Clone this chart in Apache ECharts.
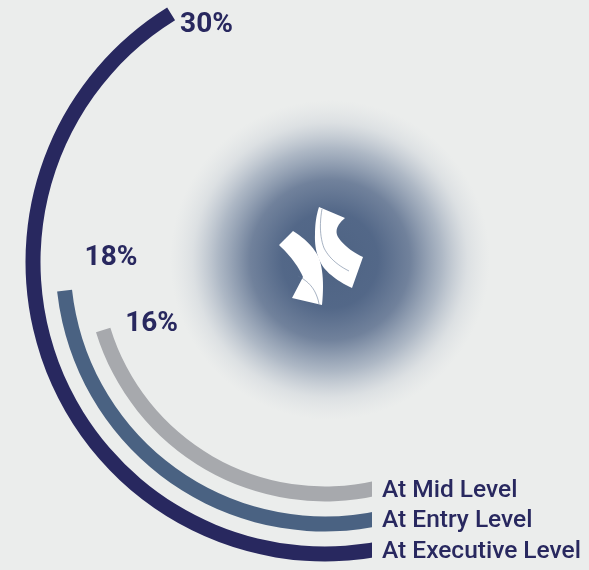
<!DOCTYPE html>
<html>
<head>
<meta charset="utf-8">
<script src="https://cdn.jsdelivr.net/npm/echarts@6/dist/echarts.min.js"></script>
<style>
  html, body { margin: 0; padding: 0; background: #ebedec; }
  #chart { width: 589px; height: 570px; }
</style>
</head>
<body>
<div id="chart"></div>
<script>
// Share of women by career level (inner ring to outer ring)
const levels = ['At Mid Level', 'At Entry Level', 'At Executive Level'];
const shares = [16, 18, 30];

const BG = '#ebedec';
const NAVY = '#28285f';
const ringColors = ['#a7a9ad', '#4a6282', '#28285f'];
// where each percentage sits relative to the end of its ring
const labelOffsets = [[22, -6], [20, -33], [9, 11]];
// vertical centre of each level name, next to the ring tails
const nameY = [491, 521, 552];

// Turn a tiny M/L/Q path string into a list of points (quadratics sampled)
function outline(d) {
  const t = d.match(/[MLQZ]|-?\d+(\.\d+)?/g);
  const pts = [];
  let i = 0, cur = null;
  while (i < t.length) {
    const c = t[i++];
    if (c === 'M' || c === 'L') {
      cur = [+t[i++], +t[i++]];
      pts.push(cur);
    } else if (c === 'Q') {
      const c1 = [+t[i++], +t[i++]], e = [+t[i++], +t[i++]];
      for (let s = 1; s <= 12; s++) {
        const u = s / 12, a = (1 - u) * (1 - u), b = 2 * u * (1 - u), q = u * u;
        pts.push([a * cur[0] + b * c1[0] + q * e[0], a * cur[1] + b * c1[1] + q * e[1]]);
      }
      cur = e;
    }
  }
  return pts;
}

const emblem = [
  { type: 'polygon', d: 'M319,207 L345,218 Q333,228 338,237 Q346,249 363,257 L352,288 Q333,279 324,268 Q314,254 315,234 Q315,219 319,207' },
  { type: 'polygon', d: 'M279,245 L293,231 Q312,243 319,258 Q325,275 322,305 L292,298 L303,277 Q296,261 279,245' },
  { type: 'polyline', d: 'M322,209 Q318,232 324,248 Q331,262 349,271' },
  { type: 'polyline', d: 'M298,276 Q310,282 315,292 Q318,298 319,304' }
].map(p => p.type === 'polygon'
  ? { type: 'polygon', z: 1, silent: true, shape: { points: outline(p.d) }, style: { fill: '#ffffff' } }
  : { type: 'polyline', z: 1, silent: true, shape: { points: outline(p.d) },
      style: { fill: null, stroke: 'rgba(96,116,146,0.55)', lineWidth: 1 } });

const chart = echarts.init(document.getElementById('chart'));

chart.setOption({
  backgroundColor: BG,
  animation: false,
  polar: { center: [325, 262], radius: [217, 307] },
  angleAxis: {
    type: 'value', min: 0, max: 67, startAngle: 283, clockwise: true,
    show: false
  },
  radiusAxis: { type: 'category', data: levels, show: false },
  graphic: [
    // soft glow behind the emblem
    {
      type: 'circle', z: 0, silent: true,
      shape: { cx: 330, cy: 260, r: 160 },
      style: {
        fill: new echarts.graphic.RadialGradient(0.5, 0.5, 0.5, [
          { offset: 0, color: 'rgba(78,99,131,1)' },
          { offset: 0.3, color: 'rgba(80,101,134,0.98)' },
          { offset: 0.5, color: 'rgba(86,106,138,0.82)' },
          { offset: 0.7, color: 'rgba(100,120,150,0.45)' },
          { offset: 0.86, color: 'rgba(130,146,170,0.14)' },
          { offset: 1, color: 'rgba(170,180,195,0)' }
        ])
      }
    }
  ].concat(emblem, [
    // square off the ring tails on the right
    {
      type: 'rect', z: 40, silent: true,
      shape: { x: 372, y: 462, width: 217, height: 108 },
      style: { fill: BG }
    }
  ], levels.map((name, i) => ({
    type: 'text', z: 60, silent: true,
    x: 382, y: nameY[i],
    style: {
      text: name, fill: NAVY,
      font: '500 24.5px Roboto',
      verticalAlign: 'middle', align: 'left'
    }
  }))),
  series: [
    {
      type: 'bar',
      coordinateSystem: 'polar',
      barWidth: 15,
      z: 5,
      silent: true,
      data: shares.map((v, i) => ({ value: v, itemStyle: { color: ringColors[i] } }))
    },
    {
      type: 'scatter',
      coordinateSystem: 'polar',
      symbolSize: 0,
      z: 60,
      silent: true,
      itemStyle: { opacity: 1 },
      data: shares.map((v, i) => ({
        value: [i, v],
        label: { offset: labelOffsets[i] }
      })),
      label: {
        show: true,
        position: 'right',
        distance: 0,
        color: NAVY,
        opacity: 1,
        fontFamily: 'Roboto',
        fontWeight: 'bold',
        fontSize: 28,
        formatter: p => p.value[1] + '%'
      }
    }
  ]
});
</script>
</body>
</html>
